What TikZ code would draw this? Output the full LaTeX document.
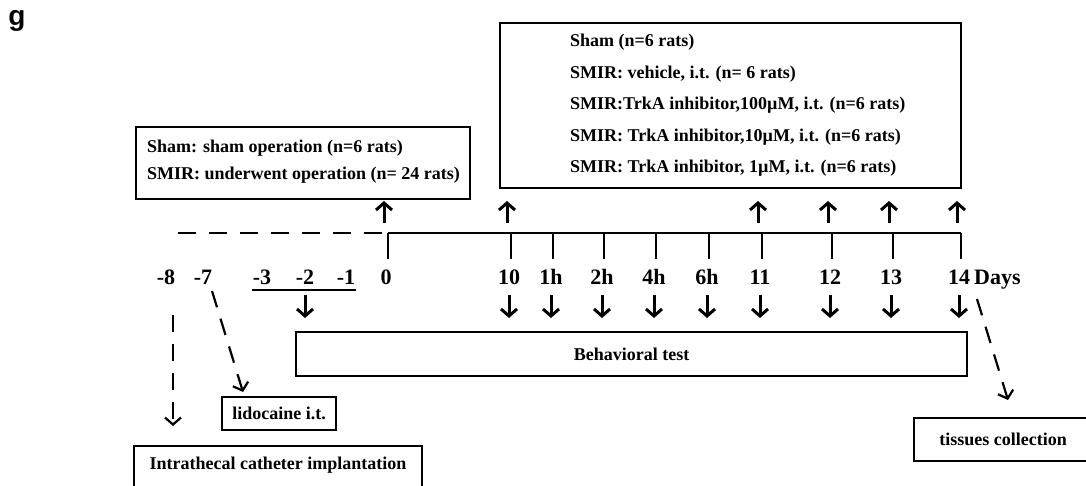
\documentclass[tikz,border=0pt]{standalone}
\usepackage{fontspec}
\setmainfont{Liberation Serif}
\newfontfamily\panelfont{Liberation Sans}
\usetikzlibrary{arrows.meta}

\begin{document}
\begin{tikzpicture}[x=1pt, y=-1pt, >={Straight Barb[length=7pt,width=16pt]},
    boxed/.style={draw, line width=2.2pt, inner sep=0pt},
    txt/.style={font=\fontsize{18}{20}\selectfont\bfseries, inner sep=0pt},
    lbl/.style={font=\fontsize{22}{24}\selectfont\bfseries, inner sep=0pt, anchor=base},
    tickline/.style={line width=2pt},
    arr/.style={->, line width=3pt},
    dasharr/.style={->, line width=2.2pt, dash pattern=on 17pt off 12pt}]

    \clip (0,0) rectangle (1086,486);

    % Panel letter
    \node [font=\panelfont\fontsize{28}{30}\selectfont\bfseries, inner sep=0pt] (panel) at (17,21) {g};

    % Boxes {surg, groups, behav, lido, cath, tissue}
    \node [boxed, minimum width=334pt, minimum height=72pt]  (surg)   at (303,163)     {};
    \node [boxed, minimum width=461pt, minimum height=165pt] (groups) at (730.5,105.5) {};
    \node [boxed, txt, minimum width=671pt, minimum height=44pt] (behav) at (631.5,354) {Behavioral test};
    \node [boxed, txt, minimum width=114pt, minimum height=33pt] (lido)  at (279,413.5) {lidocaine i.t.};
    \node [boxed, txt, minimum width=288pt, text height=15pt, text depth=15pt, inner ysep=8pt, anchor=base]
                                                             (cath)   at (278,469)     {Intrathecal catheter implantation};
    \node [boxed, txt, minimum width=178pt, minimum height=43pt] (tissue) at (1003,439.5) {tissues collection};

    % Box texts
    \node [txt, anchor=base west] (sham) at (147,153) {Sham: sham operation (n=6 rats)};
    \node [txt, anchor=base west] (smir) at (147,180) {SMIR: underwent operation (n= 24 rats)};
    \foreach \i/\s in {1/{Sham (n=6 rats)},
                       2/{SMIR: vehicle, i.t. (n= 6 rats)},
                       3/{SMIR:TrkA inhibitor,100µM, i.t. (n=6 rats)},
                       4/{SMIR: TrkA inhibitor,10µM, i.t. (n=6 rats)},
                       5/{SMIR: TrkA inhibitor, 1µM, i.t. (n=6 rats)}}
        \node [txt, anchor=base west] (grp\i) at (570,{15.6+31.4*\i}) {\s};

    % Time line {ticks and day labels}
    \foreach \x/\t/\n in {388/0/d0, 511/10/d10, 553/1h/h1, 604/2h/h2, 656/4h/h4,
                          709/6h/h6, 762/11/d11, 832/12/d12, 893/13/d13, 961/14/d14} {
        \coordinate (t\n) at (\x,233);
        \draw [tickline] (t\n) -- ++(0,26);
        \node [lbl] (\n) at ([xshift=-2pt]t\n |- 0,284) {\t};
    }
    \foreach \x/\t/\n in {166/-8/m8, 203/-7/m7, 262/-3/m3, 305/-2/m2, 346/-1/m1}
        \node [lbl] (\n) at (\x,284) {\t};
    \node [lbl, anchor=base west] (days) at (974,284) {Days};

    \coordinate (dstart) at (178,233);
    \draw [tickline, dash pattern=on 18pt off 13pt] (dstart) -- (td0);
    \draw [tickline] (td0) -- (td14);
    \draw [line width=1.5pt] ([xshift=-1pt,yshift=-6pt]m3.base west) -- ([xshift=1pt,yshift=-6pt]m1.base east);

    % Arrows
    \foreach \n in {d0, d10, d11, d12, d13, d14}
        \draw [arr] ([xshift=-4pt]t\n) ++(0,-10) -- ++(0,-22);
    \foreach \n in {m2, d10, h1, h2, h4, h6, d11, d12, d13, d14}
        \draw [arr] (\n.base) ++(0,11) -- ++(0,23);

    % Dashed paths
    \coordinate (c8a) at (173,315);
    \coordinate (c8b) at (173,426);
    \coordinate (c7a) at (212,291);
    \coordinate (c7b) at (243,392);
    \coordinate (cda) at (977,299);
    \coordinate (cdb) at (1008,400);
    \path [dasharr] (c8a) edge (c8b);
    \path [dasharr] (c7a) edge (c7b);
    \path [dasharr] (cda) edge (cdb);

\end{tikzpicture}
\end{document}
